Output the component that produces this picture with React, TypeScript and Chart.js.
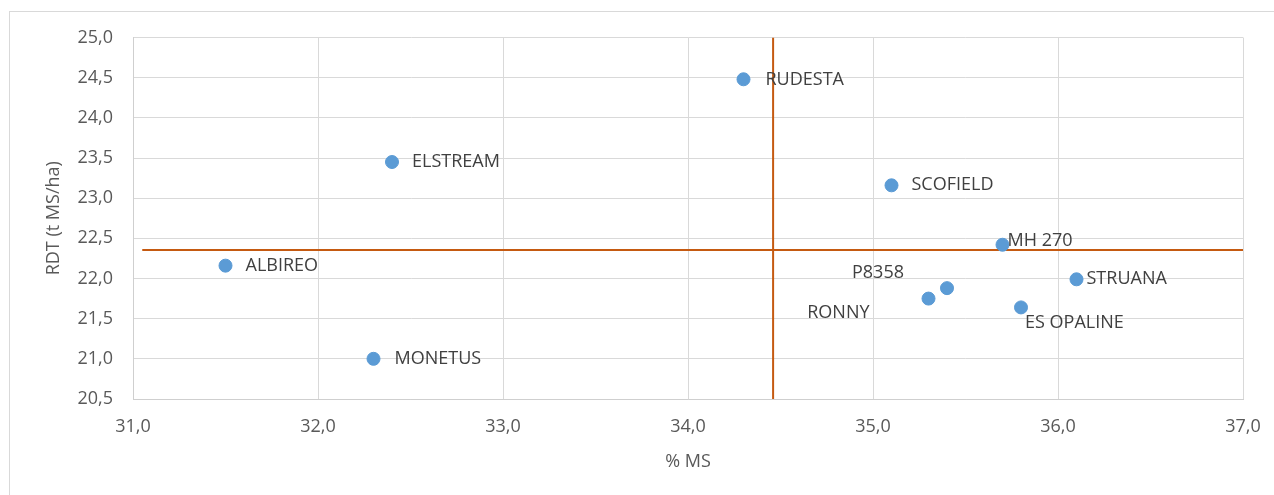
import React, { useEffect, useRef } from "react";
import { Chart, registerables } from "chart.js";

Chart.register(...registerables);

const varieties = ["RUDESTA", "ELSTREAM", "SCOFIELD", "MH 270", "P8358", "RONNY", "ES OPALINE", "STRUANA", "ALBIREO", "MONETUS"];
const msPct = [34.3, 32.4, 35.1, 35.7, 35.4, 35.3, 35.8, 36.1, 31.5, 32.3];
const rdtValues = [24.48, 23.45, 23.16, 22.42, 21.88, 21.75, 21.64, 21.99, 22.16, 21.0];
const meanMs = 34.46;
const meanRdt = 22.355;
const hLineX = [31.05, 37.0];
const vLineY = [20.5, 25.0];
const xTicks = [31, 32, 33, 34, 35, 36, 37];
const yTicks = [20.5, 21, 21.5, 22, 22.5, 23, 23.5, 24, 24.5, 25];

// label placement (style): offset from point, alignment
const labelDx = [22, 20, 20, 5, -43, -59, 4, 10, 20, 21];
const labelDy = [1, 0, 0, -4, -15, 14, 15, 0, 0, 0];
const labelAlign = ["left", "left", "left", "left", "right", "right", "left", "left", "left", "left"];

const FONT = "'Open Sans', sans-serif";
const fmt = (v: number) => v.toFixed(1).replace(".", ",");

export default function App() {
  const ref = useRef<HTMLCanvasElement | null>(null);

  useEffect(() => {
    let chart: Chart | null = null;
    let cancelled = false;
    const make = () => {
      if (cancelled || !ref.current) return;
      const labelPlugin = {
        id: "labels",
        beforeDraw(c: any) {
          const ctx = c.ctx;
          ctx.save();
          ctx.fillStyle = "#ffffff";
          ctx.fillRect(0, 0, c.width, c.height);
          ctx.strokeStyle = "#d9d9d9";
          ctx.lineWidth = 1;
          ctx.strokeRect(9.5, 11.5, 1400, 700);
          ctx.restore();
        },
        afterDatasetsDraw(c: any) {
          const ctx = c.ctx;
          const meta = c.getDatasetMeta(0);
          ctx.save();
          ctx.font = `18px ${FONT}`;
          ctx.fillStyle = "#404040";
          ctx.textBaseline = "middle";
          meta.data.forEach((pt: any, i: number) => {
            ctx.textAlign = labelAlign[i];
            ctx.fillText(varieties[i], pt.x + labelDx[i], pt.y + labelDy[i]);
          });
          ctx.restore();
        },
      };

      chart = new Chart(ref.current, {
        type: "scatter",
        data: {
          datasets: [
            {
              label: "Variétés",
              data: msPct.map((x, i) => ({ x, y: rdtValues[i] })),
              backgroundColor: "#5B9BD5",
              borderColor: "#5B9BD5",
              pointRadius: 6.5,
              order: 0,
            },
            {
              label: "Moyenne RDT",
              type: "line",
              data: hLineX.map((x) => ({ x, y: meanRdt })),
              borderColor: "#C55A11",
              borderWidth: 2,
              pointRadius: 0,
              showLine: true,
              order: 1,
            },
            {
              label: "Moyenne MS",
              type: "line",
              data: vLineY.map((y) => ({ x: meanMs, y })),
              borderColor: "#C55A11",
              borderWidth: 2,
              pointRadius: 0,
              showLine: true,
              order: 1,
            },
          ],
        },
        options: {
          animation: false,
          responsive: false,
          devicePixelRatio: 1,
          layout: { padding: { left: 0, top: 37.5, right: 31, bottom: 0 } },
          plugins: {
            legend: { display: false },
            tooltip: { enabled: false },
          },
          scales: {
            x: {
              type: "linear",
              min: 31,
              max: 37,
              afterFit: (s: any) => {
                s.height = 96;
                s.paddingLeft = 0;
                s.paddingRight = 0;
              },
              afterBuildTicks: (s: any) => { s.ticks = xTicks.map((v) => ({ value: v })); },
              grid: { color: "#d9d9d9", lineWidth: 1, drawTicks: false },
              border: { color: "#cfcfcf", width: 1 },
              ticks: {
                padding: 17,
                color: "#595959",
                font: { family: FONT, size: 18 },
                callback: (v: any) => fmt(Number(v)),
              },
              title: {
                display: true,
                text: "% MS",
                color: "#595959",
                font: { family: FONT, size: 18 },
                padding: { top: 0, bottom: 22 },
              },
            },
            y: {
              type: "linear",
              min: 20.5,
              max: 25,
              afterFit: (s: any) => {
                s.width = 133;
                s.paddingTop = 0;
                s.paddingBottom = 0;
              },
              afterBuildTicks: (s: any) => { s.ticks = yTicks.map((v) => ({ value: v })); },
              grid: { color: "#d9d9d9", lineWidth: 1, drawTicks: false },
              border: { color: "#cfcfcf", width: 1 },
              ticks: {
                padding: 20,
                color: "#595959",
                font: { family: FONT, size: 18 },
                callback: (v: any) => fmt(Number(v)),
              },
              title: {
                display: true,
                text: "RDT (t MS/ha)",
                color: "#595959",
                font: { family: FONT, size: 18 },
                padding: { top: 43, bottom: 0 },
              },
            },
          },
        },
        plugins: [labelPlugin],
      } as any);
    };
    const fontsReady = (document as any).fonts
      ? Promise.all([
          (document as any).fonts.load(`18px 'Open Sans'`),
        ]).catch(() => null)
      : Promise.resolve(null);
    fontsReady.then(make);
    return () => {
      cancelled = true;
      if (chart) chart.destroy();
    };
  }, []);

  return (
    <div style={{ position: "absolute", left: 0, top: 0, width: 1274, height: 495, background: "#fff" }}>
      <canvas ref={ref} width={1274} height={495} style={{ display: "block" }} />
    </div>
  );
}
